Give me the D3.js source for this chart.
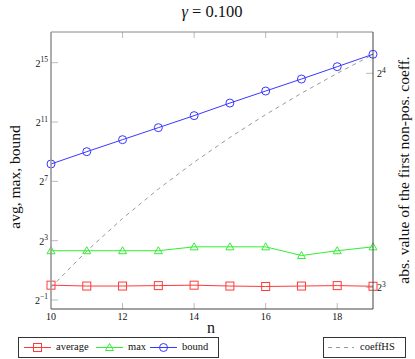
<!DOCTYPE html>
<html>
<head>
<meta charset="utf-8">
<script src="https://cdn.jsdelivr.net/npm/d3@7"></script>
<style>
  body { margin: 0; background: #fff; }
  svg { display: block; }
  text { font-family: "Liberation Serif", "DejaVu Serif", serif; fill: #111; }
</style>
</head>
<body>
<svg></svg>
<script>
// data
let nValues = [10, 11, 12, 13, 14, 15, 16, 17, 18, 19]
let average = [1.0, 0.96, 0.96, 0.98, 1.0, 0.96, 0.94, 0.96, 0.98, 0.95]
let maxVals = [5, 5, 5, 5, 6, 6, 6, 4, 5, 6]
let bound = [288, 512, 898, 1574, 2760, 4970, 8720, 15280, 27200, 48600]
let coeffHS = [8, 9, 10, 11, 12, 13, 14, 15, 16, 17]
let xTicks = [10, 12, 14, 16, 18]
let leftTickExps = [-1, 3, 7, 11, 15]
let rightTickExps = [3, 4]

let width = 415
let height = 359
let plotLeft = 51, plotRight = 373, plotTop = 32, plotBottom = 309

let svg = d3.select('svg')
            .attr('width', width)
            .attr('height', height)

let xScale = d3.scaleLinear()
               .domain([10, 19])
               .range([plotLeft, plotRight])

let yLeft = d3.scaleLog().base(2)
              .domain([Math.pow(2, -1.607), Math.pow(2, 17.07)])
              .range([plotBottom, plotTop])

let yRight = d3.scaleLog().base(2)
               .domain([Math.pow(2, 2.899), Math.pow(2, 4.193)])
               .range([plotBottom, plotTop])

// title
let title = svg.append('text')
   .attr('x', 212)
   .attr('y', 17)
   .attr('text-anchor', 'middle')
   .style('font-size', '16.5px')
title.append('tspan').style('font-style', 'italic').text('γ')
title.append('tspan').text(' = 0.100')

// ticks (pointing inward)
let tickColor = '#bbb'
xTicks.slice(1).forEach(t => {
    svg.append('line')
       .attr('x1', xScale(t)).attr('x2', xScale(t))
       .attr('y1', plotBottom).attr('y2', plotBottom - 6)
       .attr('stroke', tickColor)
    svg.append('line')
       .attr('x1', xScale(t)).attr('x2', xScale(t))
       .attr('y1', plotTop).attr('y2', plotTop + 6)
       .attr('stroke', tickColor)
})
leftTickExps.forEach(e => {
    svg.append('line')
       .attr('x1', plotLeft).attr('x2', plotLeft + 7)
       .attr('y1', yLeft(Math.pow(2, e))).attr('y2', yLeft(Math.pow(2, e)))
       .attr('stroke', tickColor)
})
rightTickExps.forEach(e => {
    svg.append('line')
       .attr('x1', plotRight).attr('x2', plotRight - 7)
       .attr('y1', yRight(Math.pow(2, e))).attr('y2', yRight(Math.pow(2, e)))
       .attr('stroke', tickColor)
})

// tick labels
xTicks.forEach(t => {
    svg.append('text')
       .attr('x', xScale(t))
       .attr('y', plotBottom + 11)
       .attr('text-anchor', 'middle')
       .style('font-size', '10px')
       .text(t)
})
let powLabel = (x, y, e, anchor) => {
    let t = svg.append('text')
       .attr('x', x)
       .attr('y', y)
       .attr('text-anchor', anchor)
       .style('font-size', '10px')
    t.append('tspan').text('2')
    t.append('tspan')
     .attr('dy', -4.5)
     .style('font-size', '7.5px')
     .text(e < 0 ? '\u2212' + (-e) : e)
}
leftTickExps.forEach(e => powLabel(plotLeft - 3, yLeft(Math.pow(2, e)) + 4, e, 'end'))
rightTickExps.forEach(e => powLabel(plotRight + 4, yRight(Math.pow(2, e)) + 4, e, 'start'))

// axis labels
svg.append('text')
   .attr('x', 211)
   .attr('y', 333)
   .attr('text-anchor', 'middle')
   .style('font-size', '16px')
   .text('n')
svg.append('text')
   .attr('transform', 'translate(20,177) rotate(-90)')
   .attr('text-anchor', 'middle')
   .style('font-size', '15.5px')
   .text('avg, max, bound')
svg.append('text')
   .attr('transform', 'translate(409,170) rotate(-90)')
   .attr('text-anchor', 'middle')
   .style('font-size', '15.5px')
   .text('abs. value of the first non-pos. coeff.')

// series
let lineLeft = vals => d3.line()
    .x((d, i) => xScale(nValues[i]))
    .y(d => yLeft(d))(vals)

let red = '#ff3a3a', green = '#33ee33', blue = '#3838ff'

svg.append('path')
   .attr('d', d3.line().x((d, i) => xScale(nValues[i])).y(d => yRight(d))(coeffHS))
   .attr('fill', 'none')
   .attr('stroke', '#999')
   .attr('stroke-dasharray', '4,4')

svg.append('path').attr('d', lineLeft(average)).attr('fill', 'none').attr('stroke', red)
svg.append('path').attr('d', lineLeft(maxVals)).attr('fill', 'none').attr('stroke', green)
svg.append('path').attr('d', lineLeft(bound)).attr('fill', 'none').attr('stroke', blue)

let square = (g, x, y) => g.append('rect')
    .attr('x', x - 4).attr('y', y - 4).attr('width', 8).attr('height', 8)
    .attr('fill', 'none').attr('stroke', red)
let triangle = (g, x, y) => g.append('path')
    .attr('d', `M${x},${y - 4}L${x + 4},${y + 3}L${x - 4},${y + 3}Z`)
    .attr('fill', 'none').attr('stroke', green)
let circle = (g, x, y) => g.append('circle')
    .attr('cx', x).attr('cy', y).attr('r', 4)
    .attr('fill', 'none').attr('stroke', blue)

average.forEach((d, i) => square(svg, xScale(nValues[i]), yLeft(d)))
maxVals.forEach((d, i) => triangle(svg, xScale(nValues[i]), yLeft(d)))
bound.forEach((d, i) => circle(svg, xScale(nValues[i]), yLeft(d)))

// frame
svg.append('line').attr('x1', plotLeft).attr('x2', plotRight).attr('y1', plotTop).attr('y2', plotTop).attr('stroke', '#888')
svg.append('line').attr('x1', plotLeft).attr('x2', plotLeft).attr('y1', plotTop).attr('y2', plotBottom).attr('stroke', '#999').attr('stroke-width', 1.6)
svg.append('line').attr('x1', plotLeft).attr('x2', plotRight).attr('y1', plotBottom).attr('y2', plotBottom).attr('stroke', '#444')
svg.append('line').attr('x1', plotRight).attr('x2', plotRight).attr('y1', plotTop).attr('y2', plotBottom).attr('stroke', '#444')

// legends
let leg = svg.append('g')
leg.append('rect').attr('x', 18.5).attr('y', 337.5).attr('width', 200).attr('height', 20)
   .attr('fill', '#fff').attr('stroke', '#333')
let ly = 347.5
let entries = [
    { x: 24, name: 'average', color: red, mark: square },
    { x: 96, name: 'max', color: green, mark: triangle },
    { x: 150, name: 'bound', color: blue, mark: circle }
]
entries.forEach(e => {
    leg.append('line').attr('x1', e.x).attr('x2', e.x + 27).attr('y1', ly).attr('y2', ly).attr('stroke', e.color)
    e.mark(leg, e.x + 13.5, ly)
    leg.append('text').attr('x', e.x + 32).attr('y', ly + 2.5).style('font-size', '10.5px').text(e.name)
})
leg.append('rect').attr('x', 323.5).attr('y', 337.5).attr('width', 82).attr('height', 20)
   .attr('fill', '#fff').attr('stroke', '#333')
leg.append('line').attr('x1', 328).attr('x2', 354).attr('y1', ly).attr('y2', ly)
   .attr('stroke', '#999').attr('stroke-dasharray', '4,4')
leg.append('text').attr('x', 360).attr('y', ly + 2.5).style('font-size', '10.5px').text('coeffHS')
</script>
</body>
</html>
